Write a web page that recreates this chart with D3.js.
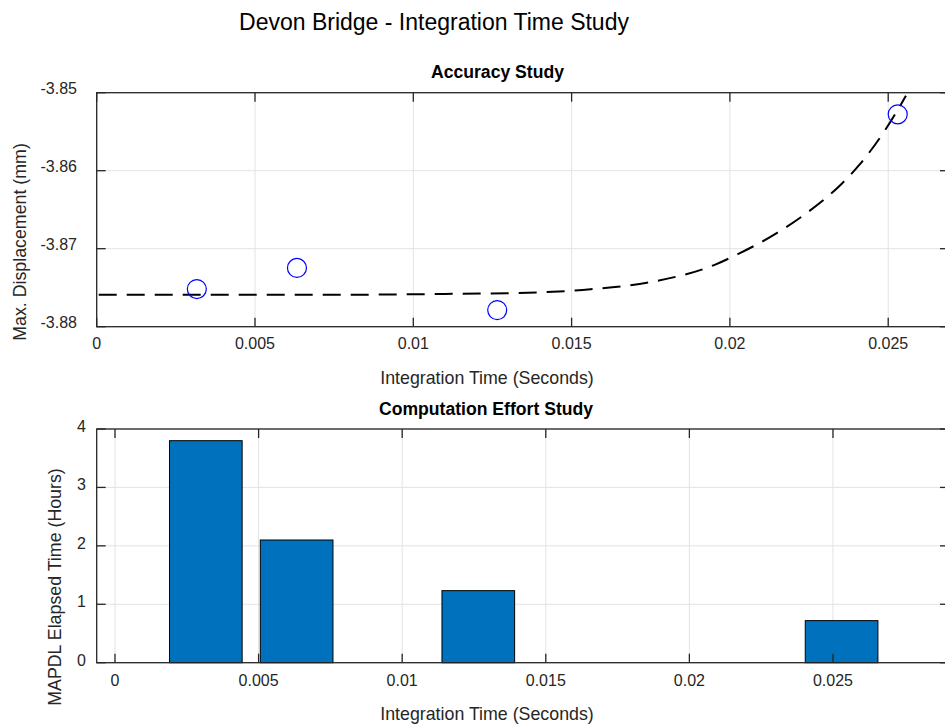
<!DOCTYPE html>
<html>
<head>
<meta charset="utf-8">
<script src="https://cdn.jsdelivr.net/npm/d3@7"></script>
<style>
  html, body { margin: 0; padding: 0; background: #fff; }
  svg { display: block; font-family: "Liberation Sans", Arial, Helvetica, sans-serif; }
</style>
</head>
<body>
<svg id="chart" width="945" height="724"></svg>
<script>
// ---- data ----
const integrationTimes = [0.0031625, 0.006325, 0.01265, 0.0253];
const maxDisplacement = [-3.87517, -3.87247, -3.87787, -3.85277];
const elapsedHours = [3.80, 2.10, 1.233, 0.72];
// fitted trend (dashed)
const fitX = [0, 0.004, 0.008, 0.011, 0.013, 0.014, 0.0156, 0.0176, 0.0195, 0.0203, 0.0214, 0.0224, 0.0235, 0.0241, 0.02495, 0.02556];
const fitY = [-3.8759, -3.8759, -3.8759, -3.8758, -3.8757, -3.8756, -3.8752, -3.8742, -3.8721, -3.8706, -3.8682, -3.8655, -3.8618, -3.8592, -3.8545, -3.8504];
const topXTicks = [0, 0.005, 0.01, 0.015, 0.02, 0.025];
const topYTicks = [-3.85, -3.86, -3.87, -3.88];
const botXTicks = [0, 0.005, 0.01, 0.015, 0.02, 0.025];
const botYTicks = [0, 1, 2, 3, 4];

const mainTitle = "Devon Bridge - Integration Time Study";
const topTitle = "Accuracy Study";
const botTitle = "Computation Effort Study";
const xLabel = "Integration Time (Seconds)";
const topYLabel = "Max. Displacement (mm)";
const botYLabel = "MAPDL Elapsed Time (Hours)";

const axisColor = "#262626";
const gridColor = "#e3e3e3";
const barColor = "#0072bd";
const tickLen = 9;

const svg = d3.select("#chart");

// main title
svg.append("text").attr("x", 434).attr("y", 29.5).attr("text-anchor", "middle")
  .attr("font-size", 23).attr("fill", "#000").text(mainTitle);

function fmt(v) { return v === 0 ? "0" : String(+v.toFixed(4)); }

function drawGrid(g, x, y, xt, yt) {
  const [x0, x1] = x.range();
  const [yb, yt0] = y.range();
  g.append("g").selectAll("line").data(xt).join("line")
    .attr("x1", d => x(d)).attr("x2", d => x(d)).attr("y1", yt0).attr("y2", yb)
    .attr("stroke", gridColor).attr("stroke-width", 1);
  g.append("g").selectAll("line").data(yt).join("line")
    .attr("x1", x0).attr("x2", x1).attr("y1", d => y(d)).attr("y2", d => y(d))
    .attr("stroke", gridColor).attr("stroke-width", 1);
}

function drawFrame(g, x, y, xt, yt, opts) {
  const [x0, x1] = x.range();
  const [yb, yt0] = y.range();
  g.append("rect").attr("x", x0).attr("y", yt0).attr("width", x1 - x0).attr("height", yb - yt0)
    .attr("fill", "none").attr("stroke", axisColor).attr("stroke-width", 1.3);
  const xtg = g.append("g");
  xt.forEach(d => {
    xtg.append("line").attr("x1", x(d)).attr("x2", x(d)).attr("y1", yb).attr("y2", yb - tickLen)
      .attr("stroke", axisColor).attr("stroke-width", 1.3);
    xtg.append("line").attr("x1", x(d)).attr("x2", x(d)).attr("y1", yt0).attr("y2", yt0 + tickLen)
      .attr("stroke", axisColor).attr("stroke-width", 1.3);
    xtg.append("text").attr("x", x(d)).attr("y", opts.xTickY).attr("text-anchor", "middle")
      .attr("font-size", 16).attr("fill", axisColor).text(fmt(d));
  });
  const ytg = g.append("g");
  yt.forEach(d => {
    ytg.append("line").attr("x1", x0).attr("x2", x0 + tickLen).attr("y1", y(d)).attr("y2", y(d))
      .attr("stroke", axisColor).attr("stroke-width", 1.3);
    ytg.append("line").attr("x1", x1).attr("x2", x1 - tickLen).attr("y1", y(d)).attr("y2", y(d))
      .attr("stroke", axisColor).attr("stroke-width", 1.3);
    ytg.append("text").attr("x", opts.yTickX).attr("y", y(d) + opts.yTickDy).attr("text-anchor", "end")
      .attr("font-size", 16).attr("fill", axisColor).text(fmt(d));
  });
  g.append("text").attr("x", opts.xLabelX).attr("y", opts.xLabelY).attr("text-anchor", "middle")
    .attr("font-size", 17.8).attr("fill", axisColor).text(xLabel);
  g.append("text").attr("transform", `translate(${opts.yLabelX},${opts.yLabelY}) rotate(-90)`)
    .attr("text-anchor", "middle").attr("font-size", 17.8).attr("fill", axisColor).text(opts.yLabel);
  g.append("text").attr("x", opts.titleX).attr("y", opts.titleY).attr("text-anchor", "middle")
    .attr("font-size", 17.6).attr("font-weight", "bold").attr("fill", "#000").text(opts.title);
}

// ---- top: accuracy study ----
const xTop = d3.scaleLinear().domain([0, 0.02692]).range([96.7, 949]);
const yTop = d3.scaleLinear().domain([-3.88, -3.85]).range([326.7, 92.7]);
const gTop = svg.append("g");
drawGrid(gTop, xTop, yTop, topXTicks, topYTicks);

svg.append("defs").append("clipPath").attr("id", "clipTop").append("rect")
  .attr("x", 96.7).attr("y", 92.7).attr("width", 949 - 96.7).attr("height", 326.7 - 92.7);

const fitData = fitX.map((v, i) => [v, fitY[i]]);
gTop.append("path").datum(fitData)
  .attr("clip-path", "url(#clipTop)")
  .attr("d", d3.line().x(d => xTop(d[0])).y(d => yTop(d[1])).curve(d3.curveMonotoneX))
  .attr("fill", "none").attr("stroke", "#000").attr("stroke-width", 2)
  .attr("stroke-dasharray", "18,10").attr("stroke-dashoffset", -2);

gTop.append("g").selectAll("circle").data(integrationTimes).join("circle")
  .attr("cx", d => xTop(d)).attr("cy", (d, i) => yTop(maxDisplacement[i])).attr("r", 9.5)
  .attr("fill", "none").attr("stroke", "#0000ff").attr("stroke-width", 1.2);

drawFrame(gTop, xTop, yTop, topXTicks, topYTicks, {
  xTickY: 349, yTickX: 77, yTickDy: 1.5,
  xLabelX: 487, xLabelY: 384, yLabelX: 26, yLabelY: 242, yLabel: topYLabel,
  titleX: 497.5, titleY: 78, title: topTitle
});

// ---- bottom: computation effort ----
const xBot = d3.scaleLinear().domain([-0.000637, 0.02904]).range([96.7, 949]);
const yBot = d3.scaleLinear().domain([0, 4]).range([662.7, 429]);
const gBot = svg.append("g");
drawGrid(gBot, xBot, yBot, botXTicks, botYTicks);

const barW = 0.8 * d3.min(d3.pairs(integrationTimes), p => p[1] - p[0]);
gBot.append("g").selectAll("rect").data(integrationTimes).join("rect")
  .attr("x", d => xBot(d - barW / 2))
  .attr("width", d => xBot(d + barW / 2) - xBot(d - barW / 2))
  .attr("y", (d, i) => yBot(elapsedHours[i]))
  .attr("height", (d, i) => yBot(0) - yBot(elapsedHours[i]))
  .attr("fill", barColor).attr("stroke", "#000").attr("stroke-width", 1);

drawFrame(gBot, xBot, yBot, botXTicks, botYTicks, {
  xTickY: 685.5, yTickX: 86, yTickDy: 3,
  xLabelX: 487, xLabelY: 720, yLabelX: 61, yLabelY: 587, yLabel: botYLabel,
  titleX: 486, titleY: 415, title: botTitle
});
</script>
</body>
</html>
